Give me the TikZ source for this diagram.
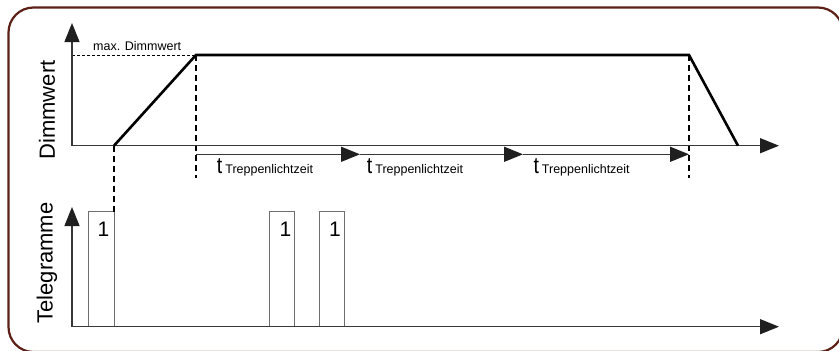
\documentclass[tikz,border=0pt]{standalone}
\usepackage{fontspec}
\setmainfont{Liberation Sans}
\usetikzlibrary{arrows.meta}
\definecolor{framebrown}{RGB}{92,32,22}
\definecolor{axisgray}{RGB}{55,55,55}
\definecolor{boxgray}{RGB}{110,110,110}
\newcommand{\tsym}{\scalebox{0.85}[1]{\fontsize{23}{23}\selectfont t}}
\begin{document}
\begin{tikzpicture}[x=1pt,y=-1pt,
  axis/.style={draw=axisgray,line width=1.4pt,-{Triangle[length=19pt,width=15pt,fill=black!88,color=black!88]}},
  curve/.style={line width=2.6pt,line join=miter},
  guide/.style={line width=1.1pt,dash pattern=on 6pt off 4pt},
  maxline/.style={line width=0.9pt,dash pattern=on 3pt off 2pt},
  telbox/.style={draw=boxgray,line width=1pt},
  axlabel/.style={inner sep=0pt,rotate=90,font=\fontsize{22}{22}\selectfont},
  tlabel/.style={inner sep=0pt,anchor=base west},
  onelabel/.style={inner sep=0pt,anchor=base,font=\fontsize{21}{21}\selectfont}]
\clip (0,0) rectangle (839,351);
\draw[framebrown,line width=2.2pt,rounded corners=25pt] (8.5,7.5) rectangle (843,352);

% coordinates of the top chart
\coordinate (o1) at (72,145.7);
\coordinate (y1) at (72,23);
\coordinate (x1) at (779,145.7);
\coordinate (r0) at (114,145.7);
\coordinate (r1) at (196,55);
\coordinate (r2) at (689,55);
\coordinate (r3) at (738,145.7);
\coordinate (m0) at (72,55);
\coordinate (g0) at (114,212);
\coordinate (g1) at (196,178);
\coordinate (g2) at (689,178);
\coordinate (t0) at (196,154.3);
\coordinate (t1) at (360,154.3);
\coordinate (t2) at (523,154.3);
\coordinate (t3) at (689,154.3);

% bottom chart
\coordinate (o2) at (72,326.7);
\coordinate (y2) at (72,207);
\coordinate (x2) at (779,326.7);

\draw[telbox] (88.7,211.7) rectangle (114,326.7);
\draw[telbox] (269,211.7) rectangle (294.7,326.7);
\draw[telbox] (319,211.7) rectangle (344,326.7);
\node[onelabel] (n1) at (103.5,236.7) {1};
\node[onelabel] (n2) at (285.5,236.7) {1};
\node[onelabel] (n3) at (335,236.7) {1};

\draw[maxline] (m0) -- (r1);
\draw[guide] (r0) -- (g0);
\draw[guide] (r1) -- (g1);
\draw[guide] (r2) -- (g2);

\draw[axis] (o1) -- (y1);
\draw[axis] (o1) -- (x1);
\draw[axis] (o2) -- (y2);
\draw[axis] (o2) -- (x2);

\draw[curve] (r0) -- (r1) -- (r2) -- (r3);

\draw[axis] (t0) -- (t1);
\draw[axis] (t1) -- (t2);
\draw[axis] (t2) -- (t3);

\node[inner sep=0pt,anchor=base west,font=\fontsize{12.5}{12.5}\selectfont] (maxl) at (93,50) {max. Dimmwert};

\node[tlabel] (l1) at (216.7,173.5) {\tsym\hspace{3pt}\fontsize{12.5}{12.5}\selectfont Treppenlichtzeit};
\node[tlabel] (l2) at (366.7,173.5) {\tsym\hspace{3pt}\fontsize{12.5}{12.5}\selectfont Treppenlichtzeit};
\node[tlabel] (l3) at (533.3,173.5) {\tsym\hspace{3pt}\fontsize{12.5}{12.5}\selectfont Treppenlichtzeit};

\node[axlabel] (dim) at (47,110) {Dimmwert};
\node[axlabel] (tel) at (47,263) {Telegramme};
\end{tikzpicture}
\end{document}
